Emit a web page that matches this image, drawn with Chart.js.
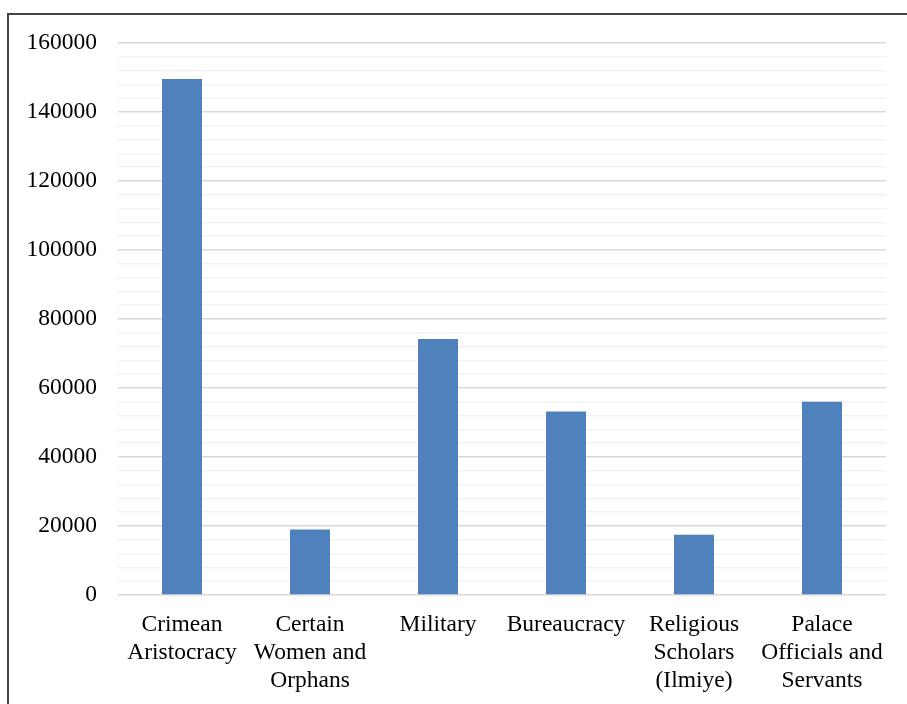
<!DOCTYPE html>
<html>
<head>
<meta charset="utf-8">
<script src="https://cdn.jsdelivr.net/npm/chart.js@4"></script>
<style>
  html, body { margin: 0; padding: 0; background: #fff; overflow: hidden; }
  #wrap { position: relative; width: 907px; height: 704px; }
  #frame {
    position: absolute; left: 7px; top: 13px; width: 1000px; height: 1000px;
    border-left: 2px solid #444; border-top: 2px solid #444; pointer-events: none;
  }
  canvas { position: absolute; left: 0; top: 0; }
</style>
</head>
<body>
<div id="wrap">
  <canvas id="chart" width="907" height="704"></canvas>
  <div id="frame"></div>
</div>
<script>
const categories = [
    ['Crimean', 'Aristocracy'],
    ['Certain', 'Women and', 'Orphans'],
    'Military',
    'Bureaucracy',
    ['Religious', 'Scholars', '(Ilmiye)'],
    ['Palace', 'Officials and', 'Servants']
];
const values = [149600, 19000, 74200, 53200, 17500, 56000];
const yMin = 0;
const yMax = 160000;
const majorStep = 20000;
const minorStep = 4000;

const ctx = document.getElementById('chart').getContext('2d');
const chart = new Chart(ctx, {
    type: 'bar',
    data: {
        labels: categories,
        datasets: [{
            data: values,
            backgroundColor: '#4f81bd',
            borderWidth: 0,
            categoryPercentage: 1,
            barPercentage: 0.3125
        }]
    },
    options: {
        responsive: false,
        animation: false,
        layout: { padding: { left: 0, right: 21, top: 43, bottom: 0 } },
        plugins: {
            legend: { display: false },
            tooltip: { enabled: false }
        },
        scales: {
            x: {
                grid: { display: false, drawTicks: false },
                border: { display: false },
                afterFit: (scale) => { scale.height = 109; },
                ticks: {
                    color: '#000',
                    padding: 16,
                    autoSkip: false,
                    maxRotation: 0,
                    font: { family: 'Liberation Serif', size: 23.5, lineHeight: 1.19 }
                }
            },
            y: {
                min: yMin,
                max: yMax,
                afterFit: (scale) => { scale.width = 118; },
                grid: {
                    drawTicks: false,
                    color: (c) => (c.tick && c.tick.value % majorStep === 0) ? '#d9d9d9' : '#f2f2f2',
                    lineWidth: 1.5
                },
                border: { display: false },
                ticks: {
                    stepSize: minorStep,
                    autoSkip: false,
                    color: '#000',
                    padding: 21,
                    font: { family: 'Liberation Serif', size: 23.5 },
                    callback: (v) => (v % majorStep === 0 ? String(v) : '')
                }
            }
        }
    }
});
</script>
</body>
</html>
